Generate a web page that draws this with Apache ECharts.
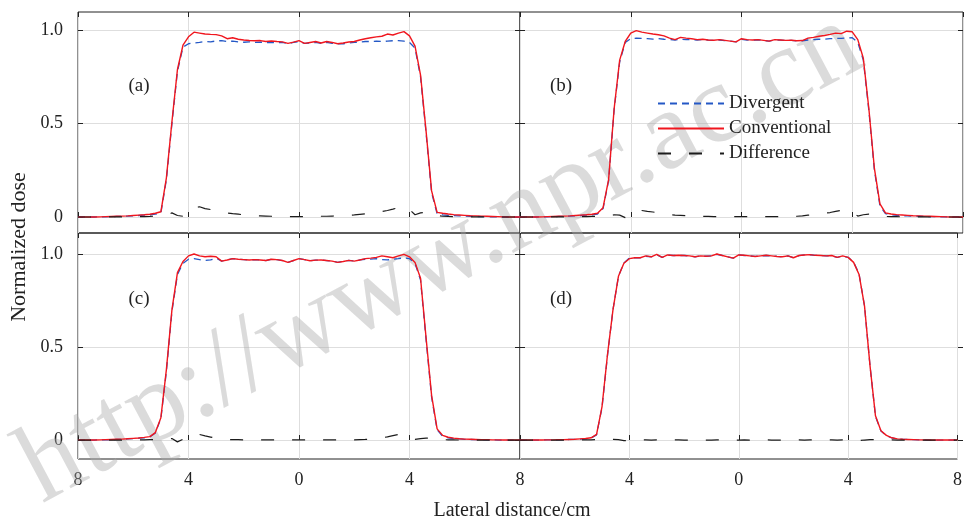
<!DOCTYPE html>
<html>
<head>
<meta charset="utf-8">
<script src="https://cdn.jsdelivr.net/npm/echarts@6/dist/echarts.min.js"></script>
<style>
html,body{margin:0;padding:0;background:#fff;}
#chart{width:965px;height:520px;}
</style>
</head>
<body>
<div id="chart"></div>
<script>
// Lateral positions (cm), shared by all panels
const xPos = [
-8.0,-7.8,-7.6,-7.4,-7.2,-7.0,-6.8,-6.6,-6.4,-6.2,
-6.0,-5.8,-5.6,-5.4,-5.2,-5.0,-4.8,-4.6,-4.4,-4.2,
-4.0,-3.8,-3.6,-3.4,-3.2,-3.0,-2.8,-2.6,-2.4,-2.2,
-2.0,-1.8,-1.6,-1.4,-1.2,-1.0,-0.8,-0.6,-0.4,-0.2,
0.0,0.2,0.4,0.6,0.8,1.0,1.2,1.4,1.6,1.8,
2.0,2.2,2.4,2.6,2.8,3.0,3.2,3.4,3.6,3.8,
4.0,4.2,4.4,4.6,4.8,5.0,5.2,5.4,5.6,5.8,
6.0,6.2,6.4,6.6,6.8,7.0,7.2,7.4,7.6,7.8,
8.0];

const xTickValues = [-8, -4, 0, 4, 8];
const yTickValues = [0, 0.5, 1.0];
const seriesNames = ['Divergent', 'Conventional', 'Difference'];
const panelLabels = ['(a)', '(b)', '(c)', '(d)'];

// Panel (a)
const aConv = [
0,0,0,0,0.001,0.002,0.003,0.004,0.005,0.006,
0.008,0.01,0.012,0.015,0.02,0.028,0.21,0.51,0.79,0.92,
0.965,0.99,0.985,0.98,0.978,0.977,0.97,0.955,0.96,0.952,
0.948,0.945,0.944,0.945,0.94,0.943,0.94,0.938,0.93,0.937,
0.945,0.93,0.935,0.94,0.932,0.94,0.935,0.928,0.932,0.937,
0.94,0.948,0.955,0.96,0.965,0.968,0.98,0.975,0.985,0.993,
0.97,0.915,0.76,0.46,0.14,0.025,0.02,0.016,0.013,0.011,
0.009,0.007,0.006,0.005,0.004,0.003,0.002,0.001,0,0,
0];
const aDiv = [
0,0,0,0,0.001,0.001,0.002,0.003,0.004,0.005,
0.006,0.008,0.01,0.012,0.015,0.022,0.2,0.5,0.78,0.91,
0.928,0.932,0.935,0.94,0.938,0.943,0.945,0.94,0.942,0.938,
0.936,0.938,0.935,0.937,0.934,0.936,0.933,0.935,0.928,0.935,
0.94,0.93,0.932,0.935,0.93,0.935,0.93,0.927,0.928,0.932,
0.935,0.937,0.94,0.94,0.942,0.94,0.942,0.944,0.945,0.942,
0.935,0.905,0.75,0.45,0.13,0.018,0.012,0.009,0.007,0.006,
0.005,0.004,0.003,0.002,0.002,0.001,0.001,0,0,0,
0];
const aDiff = [
0,0,0,0,0,0.001,0.001,0.001,0.001,0.001,
0.002,0.002,0.002,0.003,0.005,0.006,0.01,0.022,0.008,0.004,
0.028,0.05,0.055,0.045,0.04,0.033,0.027,0.022,0.018,0.015,
0.012,0.009,0.007,0.006,0.005,0.004,0.003,0.003,0.002,0.002,
0.002,0.002,0.003,0.003,0.004,0.004,0.005,0.006,0.007,0.009,
0.011,0.014,0.017,0.021,0.025,0.029,0.035,0.042,0.05,0.057,
0.04,0.012,0.022,0.025,0.025,0.008,0.004,0.003,0.002,0.002,
0.001,0.001,0.001,0.001,0.001,0,0,0,0,0,
0];

// Panel (b)
const bConv = [
0,0,0,0,0.001,0.002,0.003,0.004,0.005,0.006,
0.008,0.01,0.012,0.015,0.02,0.05,0.2,0.58,0.84,0.94,
0.985,0.998,0.99,0.985,0.98,0.976,0.97,0.958,0.95,0.962,
0.958,0.955,0.95,0.952,0.948,0.947,0.95,0.946,0.942,0.938,
0.955,0.95,0.948,0.95,0.946,0.942,0.95,0.948,0.946,0.947,
0.944,0.945,0.958,0.962,0.968,0.972,0.978,0.985,0.982,0.995,
0.992,0.95,0.85,0.58,0.26,0.07,0.022,0.016,0.013,0.011,
0.009,0.007,0.006,0.005,0.004,0.003,0.002,0.001,0,0,
0];
const bDiv = [
0,0,0,0,0.001,0.001,0.002,0.003,0.004,0.005,
0.006,0.008,0.01,0.012,0.016,0.045,0.195,0.575,0.83,0.935,
0.955,0.958,0.957,0.955,0.953,0.955,0.952,0.95,0.948,0.952,
0.95,0.951,0.948,0.95,0.947,0.946,0.948,0.945,0.942,0.938,
0.952,0.948,0.947,0.949,0.945,0.942,0.948,0.947,0.945,0.946,
0.943,0.944,0.948,0.95,0.952,0.952,0.955,0.956,0.957,0.958,
0.96,0.935,0.84,0.57,0.25,0.06,0.018,0.012,0.009,0.007,
0.006,0.005,0.004,0.003,0.002,0.002,0.001,0.001,0,0,
0];
const bDiff = [
0,0,0,0,0,0.001,0.001,0.001,0.001,0.001,
0.002,0.002,0.002,0.003,0.004,0.005,0.005,0.012,0.01,-0.003,
0.015,0.03,0.035,0.03,0.027,0.022,0.018,0.012,0.01,0.009,
0.007,0.005,0.004,0.003,0.003,0.002,0.002,0.002,0.002,0.002,
0.002,0.002,0.002,0.002,0.002,0.002,0.002,0.002,0.003,0.003,
0.004,0.006,0.01,0.012,0.016,0.02,0.024,0.03,0.035,0.033,
0.028,0.005,0.012,0.015,0.015,0.008,0.003,0.002,0.002,0.001,
0.001,0.001,0.001,0.001,0,0,0,0,0,0,
0];

// Panel (c)
const cConv = [
0,0,0,0,0.001,0.002,0.003,0.004,0.005,0.007,
0.009,0.011,0.014,0.018,0.04,0.12,0.38,0.7,0.9,0.96,
0.99,1.0,0.99,0.985,0.988,0.985,0.962,0.968,0.975,0.972,
0.97,0.968,0.97,0.968,0.965,0.972,0.97,0.965,0.955,0.965,
0.975,0.97,0.964,0.967,0.968,0.965,0.962,0.955,0.96,0.966,
0.962,0.968,0.975,0.978,0.982,0.99,0.985,0.98,0.99,0.998,
0.985,0.955,0.87,0.55,0.24,0.06,0.025,0.015,0.01,0.007,
0.005,0.004,0.003,0.002,0.002,0.001,0.001,0,0,0,
0];
const cDiv = [
0,0,0,0,0.001,0.001,0.002,0.003,0.004,0.006,
0.008,0.01,0.012,0.016,0.038,0.115,0.37,0.69,0.89,0.95,
0.972,0.975,0.97,0.965,0.968,0.978,0.962,0.968,0.975,0.972,
0.97,0.968,0.97,0.968,0.965,0.972,0.97,0.965,0.955,0.965,
0.975,0.97,0.964,0.967,0.968,0.965,0.962,0.955,0.96,0.966,
0.962,0.968,0.972,0.972,0.975,0.97,0.968,0.972,0.975,0.98,
0.975,0.95,0.86,0.54,0.23,0.055,0.02,0.012,0.008,0.006,
0.004,0.003,0.002,0.002,0.001,0.001,0,0,0,0,
0];
const cDiff = [
0,0,0,0,0,0,0,0,0,0,
0.001,0.001,0.001,0.002,0.002,0.004,0.006,0.008,-0.01,0.004,
0.018,0.025,0.03,0.022,0.016,0.01,0.005,0.003,0.002,0.002,
0.001,0.001,0.001,0.001,0.001,0.001,0.001,0.001,0.001,0.001,
0.001,0.001,0.001,0.001,0.001,0.001,0.001,0.001,0.001,0.001,
0.001,0.002,0.003,0.005,0.008,0.012,0.017,0.024,0.03,0.022,
0.01,0.004,0.008,0.01,0.01,0.005,0.002,0.001,0.001,0,
0,0,0,0,0,0,0,0,0,0,
0];

// Panel (d)
const dConv = [
0,0,0,0,0,0.001,0.001,0.002,0.002,0.003,
0.004,0.006,0.008,0.012,0.03,0.18,0.46,0.7,0.88,0.95,
0.975,0.98,0.98,0.99,0.985,0.998,0.982,0.995,0.992,0.993,
0.992,0.99,0.985,0.99,0.988,0.99,1.0,0.992,0.985,0.978,
0.995,0.993,0.99,0.987,0.99,0.993,0.99,0.987,0.985,0.99,
0.98,0.992,0.995,0.997,0.993,0.992,0.99,0.992,0.982,0.99,
0.982,0.955,0.89,0.72,0.4,0.13,0.05,0.025,0.012,0.006,
0.004,0.003,0.002,0.001,0.001,0,0,0,0,0,
0];
const dDiv = [
0,0,0,0,0,0.001,0.001,0.001,0.002,0.003,
0.004,0.005,0.007,0.011,0.028,0.175,0.455,0.7,0.88,0.952,
0.978,0.98,0.98,0.988,0.985,0.996,0.982,0.994,0.992,0.992,
0.992,0.99,0.985,0.99,0.988,0.99,0.998,0.992,0.985,0.978,
0.995,0.992,0.99,0.987,0.99,0.992,0.99,0.987,0.985,0.99,
0.98,0.991,0.995,0.996,0.993,0.992,0.99,0.991,0.982,0.988,
0.982,0.957,0.893,0.72,0.4,0.128,0.048,0.023,0.011,0.006,
0.004,0.003,0.002,0.001,0.001,0,0,0,0,0,
0];
const dDiff = [
0,0,0,0,0,0,0,0,0,0,
0,0.001,0.001,0.001,0.002,0.005,0.005,0.004,0.002,-0.003,
-0.004,-0.002,0,0.001,0,0.001,0,0.001,0,0.001,
0,0,0,0,0,0,0.001,0,0,0,
0,0.001,0,0,0,0.001,0,0,0,0,
0,0.001,0,0.001,0,0,0,0.001,0,0.001,
0,-0.002,-0.003,0,0.002,0.002,0.002,0.001,0.001,0,
0,0,0,0,0,0,0,0,0,0,
0];

const FONT = 'Liberation Serif';
const TXT = '#222';
const GRIDC = '#dedede';

const panels = [
  {left:78,  top:12,  width:442, height:221, ymin:-0.0856, ymax:1.098, labTop:30,  labH:187, showY:true,  showX:false, hideMin:false, data:[aDiv,aConv,aDiff]},
  {left:520, top:12,  width:443, height:221, ymin:-0.0856, ymax:1.098, labTop:30,  labH:187, showY:false, showX:false, hideMin:false, data:[bDiv,bConv,bDiff]},
  {left:78,  top:233, width:442, height:226, ymin:-0.102,  ymax:1.113, labTop:254, labH:186, showY:true,  showX:true,  hideMin:false, data:[cDiv,cConv,cDiff]},
  {left:520, top:233, width:443, height:226, ymin:-0.102,  ymax:1.113, labTop:254, labH:186, showY:false, showX:true,  hideMin:true,  data:[dDiv,dConv,dDiff]}
];

const styles = [
  {color:'#2458c6', lineStyle:{width:1.3, type:[7,5]}},
  {color:'#f0161e', lineStyle:{width:1.4, type:'solid'}},
  {color:'#1c1c1c', lineStyle:{width:1.2, type:[13,18]}}
];

const grid = [], xAxis = [], yAxis = [], series = [];
const tick = {show:true, inside:true, length:5, lineStyle:{color:TXT, width:1}};

panels.forEach((p, i) => {
  const g = grid.length;
  grid.push({left:p.left, top:p.top, width:p.width, height:p.height, show:true, borderColor:'#222', borderWidth:1, backgroundColor:'transparent'});
  grid.push({left:p.left, top:p.labTop, width:p.width, height:p.labH});

  const xb = xAxis.length;
  xAxis.push({gridIndex:g, type:'value', min:xTickValues[0], max:xTickValues[xTickValues.length-1], interval:4, position:'bottom',
    axisLine:{show:false}, axisTick:tick,
    axisLabel:{show:p.showX, formatter:v => String(Math.abs(v)), fontFamily:FONT, fontSize:18, color:TXT, margin:12, showMinLabel:!p.hideMin},
    splitLine:{show:true, lineStyle:{color:GRIDC, width:1}}});
  xAxis.push({gridIndex:g, type:'value', min:-8, max:8, interval:4, position:'top',
    axisLine:{show:false}, axisTick:tick, axisLabel:{show:false}, splitLine:{show:false}});
  xAxis.push({gridIndex:g+1, type:'value', min:0, max:1, show:false});

  const yb = yAxis.length;
  yAxis.push({gridIndex:g, type:'value', min:p.ymin, max:p.ymax, show:false});
  yAxis.push({gridIndex:g+1, type:'value', min:yTickValues[0], max:yTickValues[2], interval:0.5, position:'left',
    axisLine:{show:false}, axisTick:tick,
    axisLabel:{show:p.showY, formatter:v => v === 0 ? '0' : v.toFixed(1), fontFamily:FONT, fontSize:18, color:TXT, margin:15},
    splitLine:{show:true, lineStyle:{color:GRIDC, width:1}}});
  yAxis.push({gridIndex:g+1, type:'value', min:0, max:1, interval:0.5, position:'right',
    axisLine:{show:false}, axisTick:tick, axisLabel:{show:false}, splitLine:{show:false}});

  p.data.forEach((arr, k) => {
    series.push({
      name:seriesNames[k], type:'line', xAxisIndex:xb, yAxisIndex:yb,
      data:xPos.map((x, j) => [x, arr[j]]),
      symbol:'none', showSymbol:false, smooth:false, animation:false,
      color:styles[k].color, lineStyle:Object.assign({color:styles[k].color}, styles[k].lineStyle),
      z:2 + k
    });
  });
});

const labelPos = [[139,86],[561,86],[139,299],[561,299]];
const graphic = [
  {type:'text', x:441, y:258, rotation:28*Math.PI/180, z:1,
   style:{text:'http://www.npr.ac.cn', x:0, y:0, align:'center', verticalAlign:'middle', font:'112px "Liberation Serif"', fill:'rgba(170,170,170,0.42)'}},
  {type:'text', x:19, y:247, rotation:Math.PI/2, z:10,
   style:{text:'Normalized dose', x:0, y:0, align:'center', verticalAlign:'middle', font:'22px "Liberation Serif"', fill:TXT}},
  {type:'text', x:512, y:511, z:10,
   style:{text:'Lateral distance/cm', x:0, y:0, align:'center', verticalAlign:'middle', font:'20px "Liberation Serif"', fill:TXT}}
];
panelLabels.forEach((t, i) => {
  graphic.push({type:'text', x:labelPos[i][0], y:labelPos[i][1], z:10,
    style:{text:t, x:0, y:0, align:'center', verticalAlign:'middle', font:'19px "Liberation Serif"', fill:TXT}});
});

const chart = echarts.init(document.getElementById('chart'), null, {renderer:'canvas'});
chart.setOption({
  animation:false,
  backgroundColor:'#fff',
  grid, xAxis, yAxis, series, graphic,
  legend:{
    data:seriesNames, orient:'vertical', left:657, top:94, padding:0, itemWidth:66, itemHeight:14, itemGap:6,
    itemStyle:{opacity:0},
    textStyle:{fontFamily:FONT, fontSize:19, color:TXT, lineHeight:19},
    inactiveColor:'#ccc'
  }
});
</script>
</body>
</html>
